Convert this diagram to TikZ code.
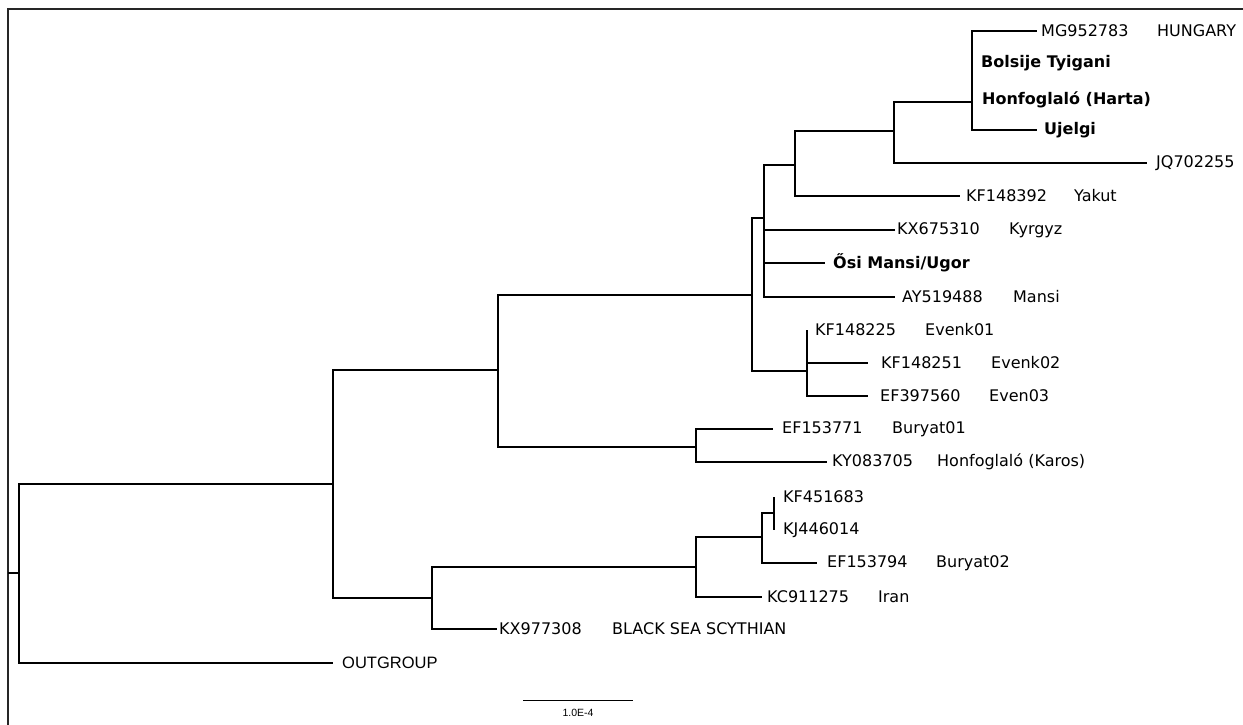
\documentclass[tikz,border=0pt]{standalone}
\usepackage{fontspec}
\setmainfont{DejaVu Sans}
\newfontfamily\arialfont{Liberation Sans}
\newcommand\twocol[3]{\makebox[#1pt][l]{#2}#3}
\begin{document}
\begin{tikzpicture}[x=1pt,y=-1pt,
  branch/.style={line width=1.5pt,black},
  framel/.style={line width=1.3pt,black!85},
  leaf/.style={anchor=west,inner sep=0pt,font=\fontsize{16}{19}\selectfont},
  boldleaf/.style={leaf,font=\fontsize{16}{19}\selectfont\bfseries},
  oglabel/.style={anchor=west,inner sep=0pt,font=\arialfont\fontsize{16.5}{19}\selectfont},
  scalelab/.style={inner sep=0pt,font=\arialfont\fontsize{10.5}{12}\selectfont}]
\useasboundingbox (0,0) rectangle (1243,725);
% frame
\coordinate (fbl) at (8,725);
\coordinate (ftl) at (8,9);
\coordinate (ftr) at (1243,9);
\draw[framel] (fbl) -- (ftl) -- (ftr);
% internal nodes
\coordinate (R) at (8,573);
\coordinate (B) at (19,573);
\coordinate (C) at (333,484);
\coordinate (D) at (498,370);
\coordinate (E) at (752,295);
\coordinate (G) at (764,218);
\coordinate (H) at (795,165);
\coordinate (I) at (894,131);
\coordinate (J) at (972,102);
\coordinate (F) at (807,371);
\coordinate (P) at (696,447);
\coordinate (K) at (432,598);
\coordinate (L) at (696,567);
\coordinate (M) at (762,537);
\coordinate (N) at (774,513);
% tips
\coordinate (tOG) at (333,663);
\coordinate (tMG) at (1037,31);
\coordinate (tBol) at (972,63);
\coordinate (tHar) at (972,100);
\coordinate (tUj) at (1037,130);
\coordinate (tJQ) at (1147,163);
\coordinate (tYak) at (960,196);
\coordinate (tKyr) at (895,230);
\coordinate (tOsi) at (825,263);
\coordinate (tAY) at (895,297);
\coordinate (tEv1) at (807,330);
\coordinate (tEv2) at (868,363);
\coordinate (tEv3) at (868,396);
\coordinate (tBu1) at (773,429);
\coordinate (tKar) at (827,462);
\coordinate (tKF4) at (774,497);
\coordinate (tKJ) at (774,530);
\coordinate (tBu2) at (817,563);
\coordinate (tIr) at (762,597);
\coordinate (tSc) at (497,629);
% branches
\draw[branch] (R) -- (B);
\draw[branch] (B) |- (C);
\draw[branch] (B) |- (tOG);
\draw[branch] (C) |- (D);
\draw[branch] (C) |- (K);
\draw[branch] (D) |- (E);
\draw[branch] (D) |- (P);
\draw[branch] (E) |- (G);
\draw[branch] (E) |- (F);
\draw[branch] (G) |- (H);
\draw[branch] (G) |- (tKyr);
\draw[branch] (G) |- (tOsi);
\draw[branch] (G) |- (tAY);
\draw[branch] (H) |- (I);
\draw[branch] (H) |- (tYak);
\draw[branch] (I) |- (J);
\draw[branch] (I) |- (tJQ);
\draw[branch] (J) |- (tMG);
\draw[branch] (J) |- (tBol);
\draw[branch] (J) |- (tHar);
\draw[branch] (J) |- (tUj);
\draw[branch] (F) |- (tEv1);
\draw[branch] (F) |- (tEv2);
\draw[branch] (F) |- (tEv3);
\draw[branch] (P) |- (tBu1);
\draw[branch] (P) |- (tKar);
\draw[branch] (K) |- (L);
\draw[branch] (K) |- (tSc);
\draw[branch] (L) |- (M);
\draw[branch] (L) |- (tIr);
\draw[branch] (M) |- (N);
\draw[branch] (M) |- (tBu2);
\draw[branch] (N) |- (tKF4);
\draw[branch] (N) |- (tKJ);
% labels
\node[leaf] (lMG) at (1041,31) {\twocol{116}{MG952783}{HUNGARY}};
\node[boldleaf] (lBol) at (981,63) {Bolsije Tyigani};
\node[boldleaf] (lHar) at (982,100) {Honfoglaló (Harta)};
\node[boldleaf] (lUj) at (1044,130) {Ujelgi};
\node[leaf] (lJQ) at (1156,163) {JQ702255};
\node[leaf] (lYak) at (966,196) {\twocol{108}{KF148392}{Yakut}};
\node[leaf] (lKyr) at (897,230) {\twocol{112}{KX675310}{Kyrgyz}};
\node[boldleaf] (lOsi) at (833,263) {Ősi Mansi/Ugor};
\node[leaf] (lAY) at (902,297) {\twocol{111}{AY519488}{Mansi}};
\node[leaf] (lEv1) at (815,330) {\twocol{110}{KF148225}{Evenk01}};
\node[leaf] (lEv2) at (881,363) {\twocol{110}{KF148251}{Evenk02}};
\node[leaf] (lEv3) at (880,396) {\twocol{109}{EF397560}{Even03}};
\node[leaf] (lBu1) at (782,429) {\twocol{110}{EF153771}{Buryat01}};
\node[leaf] (lKar) at (832,462) {\twocol{105}{KY083705}{Honfoglaló (Karos)}};
\node[leaf] (lKF4) at (783,497) {KF451683};
\node[leaf] (lKJ) at (783,530) {KJ446014};
\node[leaf] (lBu2) at (827,563) {\twocol{109}{EF153794}{Buryat02}};
\node[leaf] (lIr) at (767,597) {\twocol{111}{KC911275}{Iran}};
\node[leaf] (lSc) at (499,629) {\twocol{113}{KX977308}{BLACK SEA SCYTHIAN}};
\node[oglabel] (lOG) at (342,663) {OUTGROUP};
% scale bar
\coordinate (sbL) at (523,700);
\coordinate (sbR) at (633,700);
\draw[line width=1pt,black] (sbL) -- (sbR);
\node[scalelab] (sbT) at (578,713) {1.0E-4};
\end{tikzpicture}
\end{document}
